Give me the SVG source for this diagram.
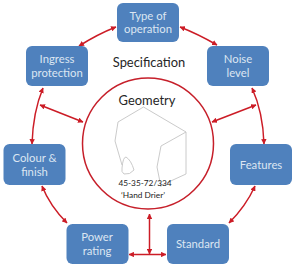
<svg xmlns="http://www.w3.org/2000/svg" width="294" height="268" viewBox="0 0 294 268">
  <style>
    .box { fill: #4f81bd; }
    .lbl { font: 11.300px Lato, "Liberation Sans", sans-serif; fill: #dce6f2; text-anchor: middle; }
    .head { font: 12.900px Lato, "Liberation Sans", sans-serif; fill: #262626; text-anchor: middle; }
    .tiny { font: 8.300px Lato, "Liberation Sans", sans-serif; fill: #1a1a1a; text-anchor: middle; }
    .link { fill: none; stroke: #cc1c26; stroke-width: 1.5; marker-start: url(#tip); marker-end: url(#tip); }
    .solid { fill: none; stroke: #c61f2a; stroke-width: 1.5; }
    .part { fill: none; stroke: #c4c4c4; stroke-width: 0.9; }
  </style>
  <defs>
    <marker id="tip" viewBox="0 0 6 6" refX="5.500" refY="3" markerWidth="3.600" markerHeight="3.600" orient="auto-start-reverse" markerUnits="strokeWidth">
      <path d="M0 0L6 3L0 6Z" fill="#cc1c26"/>
    </marker>
  </defs>
  <rect width="294" height="268" fill="#fff"/>

  <g id="connectors">
    <path class="link" d="M116 27Q98 34 79 46"/>
    <path class="link" d="M180 27Q198 34 217 45"/>
    <path class="link" d="M43 88Q33 112 32 144"/>
    <path class="link" d="M252 88Q263 112 264 144"/>
    <path class="link" d="M42 186Q50 206 67 223"/>
    <path class="link" d="M255 186Q246 206 229 223"/>
    <path class="link" d="M40 105L83 122"/>
    <path class="link" d="M256 105L212 122"/>
    <path class="link" d="M149.500 214V254"/>
    <path class="link" d="M129 254.500H166"/>
  </g>

  <g id="type-of-operation">
    <rect class="box" x="117" y="3" width="62" height="39" rx="6"/>
    <text class="lbl" x="148" y="20">Type of</text>
    <text class="lbl" x="148" y="33">operation</text>
  </g>
  <g id="noise-level">
    <rect class="box" x="207" y="46" width="62" height="40" rx="6"/>
    <text class="lbl" x="238" y="63">Noise</text>
    <text class="lbl" x="238" y="76.500">level</text>
  </g>
  <g id="features">
    <rect class="box" x="230" y="144" width="62" height="41" rx="6"/>
    <text class="lbl" x="261" y="169">Features</text>
  </g>
  <g id="standard">
    <rect class="box" x="167" y="224" width="62" height="40" rx="6"/>
    <text class="lbl" x="198" y="248">Standard</text>
  </g>
  <g id="power-rating">
    <rect class="box" x="66.500" y="224" width="62" height="40" rx="6"/>
    <text class="lbl" x="97" y="241">Power</text>
    <text class="lbl" x="97" y="254.500">rating</text>
  </g>
  <g id="colour-finish">
    <rect class="box" x="3.500" y="144" width="62" height="41" rx="6"/>
    <text class="lbl" x="34.500" y="162">Colour &amp;</text>
    <text class="lbl" x="34.500" y="175.500">finish</text>
  </g>
  <g id="ingress-protection">
    <rect class="box" x="26" y="46" width="62" height="40" rx="6"/>
    <text class="lbl" x="57" y="63">Ingress</text>
    <text class="lbl" x="57" y="76.500">protection</text>
  </g>

  <g id="specification">
    <text class="head" x="149" y="67">Specification</text>
  </g>
  <g id="geometry">
    <circle class="solid" cx="148" cy="143.500" r="65.500"/>
    <text class="head" x="147" y="105">Geometry</text>
    <!-- hand drier outline -->
    <path class="part" d="M143.500 107L186 132L161 146L157 167L161 187M186 132V174L162 185M143.500 107L118 122L115 141L122 165M122 168Q123 157 126 157Q131 160 134 170Q130 175 124 174Q121 172 122 168Z"/>
    <text class="tiny" x="145" y="186">45-35-72/334</text>
    <text class="tiny" x="143" y="198">‘Hand Drier’</text>
  </g>
</svg>
